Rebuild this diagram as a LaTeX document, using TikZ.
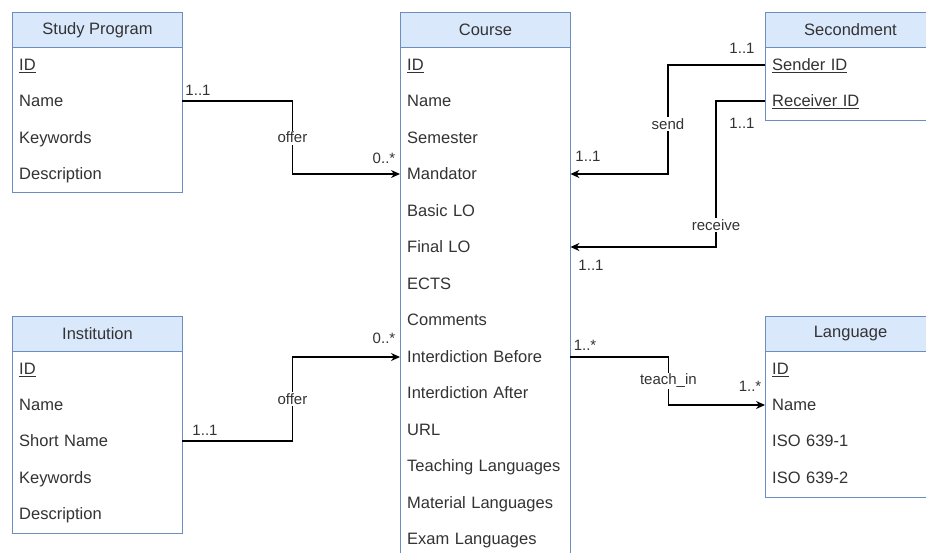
\documentclass[tikz,border=0pt]{standalone}
\usepackage{fontspec}
\setmainfont{Liberation Sans}
\usetikzlibrary{arrows.meta}
\definecolor{edgeblue}{HTML}{6C8EBF}
\definecolor{headblue}{HTML}{DAE8FC}
\definecolor{ink}{HTML}{333333}
\newcommand{\rowfont}{\fontsize{16.5}{19}\selectfont}
\newcommand{\lblfont}{\fontsize{15}{18}\selectfont}
\tikzset{
  head/.style={draw=edgeblue, fill=headblue, line width=1pt, minimum width=170pt,
    minimum height=35pt, inner sep=0pt, text=ink, font=\rowfont, anchor=north west},
  body/.style={draw=edgeblue, fill=white, line width=1pt, minimum width=170pt,
    inner sep=0pt, anchor=north west},
  row/.style={text width=156pt, inner xsep=7pt, inner ysep=0pt, minimum height=30pt,
    text depth=0pt, align=left, text=ink, font=\rowfont, anchor=west},
  link/.style={line width=1.3pt, draw=black},
  rel/.style={link, -{Stealth[length=9pt,width=8pt]}},
  verb/.style={fill=white, text=ink, font=\lblfont, inner sep=1.5pt},
  mult/.style={text=ink, font=\lblfont, inner sep=0pt},
}
\begin{document}
\begin{tikzpicture}[x=1pt, y=-1pt]
\useasboundingbox (0,0) rectangle (926,552);
\fill[white] (0,0) rectangle (926,552);

% Study Program
\node[body, minimum height=145pt] (sp-body) at (12,47) {};
\node[head] (sp-head) at (12,12) {Study Program};
\node[row] (sp-id)   at (12,65)  {\underline{ID}};
\node[row] (sp-name) at (12,101) {Name};
\node[row] (sp-kw)   at (12,138) {Keywords};
\node[row] (sp-desc) at (12,174) {Description};

% Institution
\node[body, minimum height=182pt] (in-body) at (12,351) {};
\node[head] (in-head) at (12,316) {Institution};
\node[row] (in-id)    at (12,369) {\underline{ID}};
\node[row] (in-name)  at (12,405) {Name};
\node[row] (in-short) at (12,441) {Short Name};
\node[row] (in-kw)    at (12,478) {Keywords};
\node[row] (in-desc)  at (12,514) {Description};

% Course
\node[body, minimum height=520pt] (co-body) at (400,47) {};
\node[head] (co-head) at (400,12) {Course};
\node[row] (co-id)    at (400,65)  {\underline{ID}};
\node[row] (co-name)  at (400,101) {Name};
\node[row] (co-sem)   at (400,138) {Semester};
\node[row] (co-mand)  at (400,174) {Mandator};
\node[row] (co-blo)   at (400,211) {Basic LO};
\node[row] (co-flo)   at (400,247) {Final LO};
\node[row] (co-ects)  at (400,284) {ECTS};
\node[row] (co-comm)  at (400,320) {Comments};
\node[row] (co-intb)  at (400,357) {Interdiction Before};
\node[row] (co-inta)  at (400,393) {Interdiction After};
\node[row] (co-url)   at (400,430) {URL};
\node[row] (co-teach) at (400,466) {Teaching Languages};
\node[row] (co-mat)   at (400,503) {Material Languages};
\node[row] (co-exam)  at (400,539) {Exam Languages};

% Secondment
\node[body, minimum height=73pt] (se-body) at (765,47) {};
\node[head] (se-head) at (765,12) {Secondment};
\node[row] (se-send) at (765,65)  {\underline{Sender ID}};
\node[row] (se-recv) at (765,101) {\underline{Receiver ID}};

% Language
\node[body, minimum height=146pt] (la-body) at (765,351) {};
\node[head] (la-head) at (765,316) {Language};
\node[row] (la-id)   at (765,369) {\underline{ID}};
\node[row] (la-name) at (765,405) {Name};
\node[row] (la-iso1) at (765,441) {ISO 639-1};
\node[row] (la-iso2) at (765,478) {ISO 639-2};

% Relationships
\draw[rel] (sp-name.east) -- ++(110,0) |- node[verb, pos=0.25] {offer} (co-mand.west);
\draw[rel] (in-short.east) -- ++(110,0) |- node[verb, pos=0.25] {offer} (co-intb.west);
\draw[rel] (se-send.west) -- ++(-97,0) |- node[verb, pos=0.27] {send} (co-mand.east);
\draw[rel] (se-recv.west) -- ++(-49,0) |- node[verb, pos=0.425] {receive} (co-flo.east);
\draw[rel] (co-intb.east) -- ++(98,0) |- node[verb, pos=0.25] {teach\_in} (la-name.west);

% Multiplicities
\node[mult] (m1) at (198,90)  {1..1};
\node[mult] (m2) at (384,158) {0..*};
\node[mult] (m3) at (205,430) {1..1};
\node[mult] (m4) at (384,338) {0..*};
\node[mult] (m5) at (742,48)  {1..1};
\node[mult] (m6) at (742,123) {1..1};
\node[mult] (m7) at (588,156) {1..1};
\node[mult] (m8) at (591,265) {1..1};
\node[mult] (m9) at (585,345) {1..*};
\node[mult] (m10) at (750,386) {1..*};
\end{tikzpicture}
\end{document}
